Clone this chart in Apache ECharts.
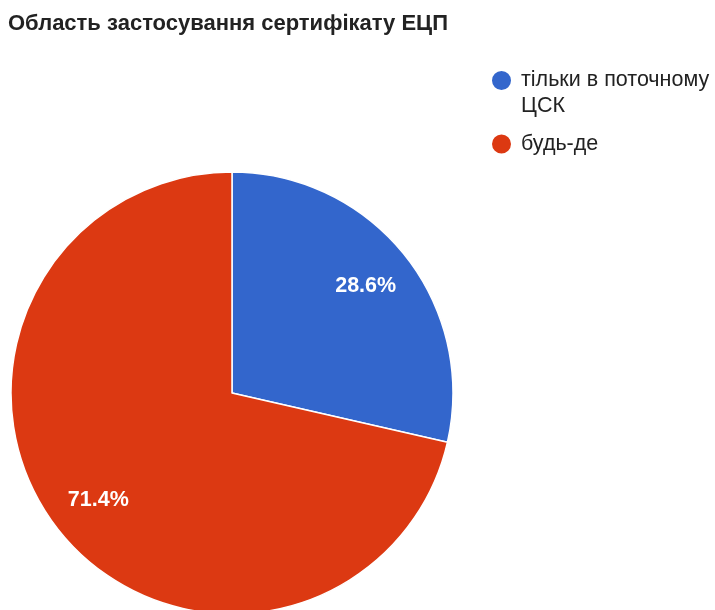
<!DOCTYPE html>
<html>
<head>
<meta charset="utf-8">
<script src="https://cdn.jsdelivr.net/npm/echarts@6/dist/echarts.min.js"></script>
<style>
  html, body { margin: 0; padding: 0; background: #fff; }
  #chart { width: 715px; height: 610px; }
</style>
</head>
<body>
<div id="chart"></div>
<script>
// Survey answers: where the digital signature certificate can be used
const titleText = 'Область застосування сертифікату ЕЦП';
const categories = ['тільки в поточному ЦСК', 'будь-де'];
const counts = [2, 5];
const colors = ['#3366cc', '#dc3912'];

const pieData = categories.map((name, i) => ({ name, value: counts[i] }));

const center = [232, 393];
const R = 221;
const font = 'Arial, "Liberation Sans", sans-serif';
const legendLine = 26;

// wrap a legend name by words so no line is longer than maxChars
function wrapWords(text, maxChars) {
  const lines = [];
  let cur = '';
  text.split(' ').forEach(w => {
    if (cur && (cur + ' ' + w).length > maxChars) { lines.push(cur); cur = w; }
    else cur = cur ? cur + ' ' + w : w;
  });
  if (cur) lines.push(cur);
  return lines;
}

// legend text is centred on its dot, so blank lines on top keep
// the first wrapped line level with the dot
function legendLabel(name) {
  const lines = wrapWords(name, 18);
  const pad = new Array(lines.length - 1).fill('');
  return pad.concat(lines).join('\n');
}

const chart = echarts.init(document.getElementById('chart'));
chart.setOption({
  animation: false,
  color: colors,
  title: {
    text: titleText,
    left: 3,
    top: 8,
    textStyle: { fontFamily: font, fontSize: 22, fontWeight: 'bold', color: '#222' }
  },
  legend: {
    orient: 'vertical',
    left: 485,
    top: 36.5,
    icon: 'circle',
    itemWidth: 21,
    itemHeight: 21,
    itemGap: 11.5,
    selectedMode: false,
    data: categories,
    formatter: legendLabel,
    textStyle: {
      fontFamily: font, fontSize: 21.5, color: '#222', lineHeight: legendLine,
      padding: [0, 0, 0, 4]
    }
  },
  series: [
    {
      // filled pie
      type: 'pie',
      center: center,
      radius: [0, R],
      startAngle: 90,
      clockwise: true,
      silent: true,
      label: { show: false },
      labelLine: { show: false },
      itemStyle: { borderColor: '#fff', borderWidth: 1.5 },
      data: pieData
    },
    {
      // transparent ring that places the percentage labels near the rim
      type: 'pie',
      center: center,
      radius: [R * 0.52, R],
      startAngle: 90,
      clockwise: true,
      silent: true,
      itemStyle: { color: 'rgba(0,0,0,0)' },
      label: {
        show: true,
        position: 'inside',
        formatter: p => p.percent.toFixed(1) + '%',
        fontFamily: font,
        fontSize: 21.5,
        fontWeight: 'bold',
        color: '#fff'
      },
      labelLine: { show: false },
      data: pieData
    }
  ]
});
</script>
</body>
</html>
